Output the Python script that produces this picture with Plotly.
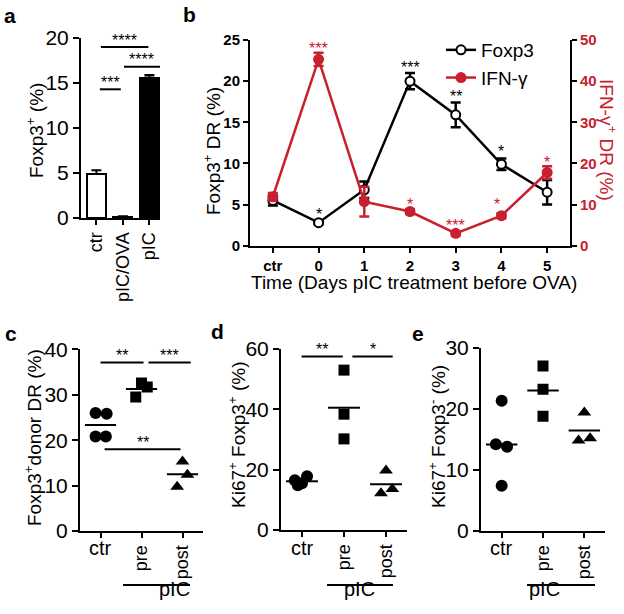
import plotly.graph_objects as go
import numpy as np

RED = "#c8202e"
FONT = "Liberation Sans, Arial, sans-serif"
W, H = 624, 614

# ---------------- data ----------------
# panel a
a_cats = ["ctr", "pIC/OVA", "pIC"]
a_vals = [4.9, 0.15, 15.6]
a_err = [0.4, 0.05, 0.3]
a_fill = ["white", "white", "black"]
a_sig = [(0.17, 1.96, 19.0, "****"), (1.04, 2.4, 16.8, "****"), (0.13, 0.92, 14.3, "***")]

# panel b
b_x = [-1, 0, 1, 2, 3, 4, 5]
b_ticktext = ["ctr", "0", "1", "2", "3", "4", "5"]
foxp3 = [5.5, 2.8, 6.8, 20.0, 15.9, 9.9, 6.5]
foxp3_err = [0.6, 0.2, 1.0, 1.0, 1.5, 0.7, 1.5]
ifng = [11.9, 45.3, 10.7, 8.3, 3.0, 7.3, 17.8]
ifng_err = [0.9, 1.6, 3.6, 0.6, 0.5, 0.6, 1.5]
b_star_fox = [(0, 4.3, "*"), (2, 22.2, "***"), (3, 18.6, "**"), (4, 11.9, "*")]
b_star_ifn = [(0, 49.0, "***"), (2, 10.9, "*"), (3, 6.0, "***"), (3.9, 11.1, "*"), (5, 21.3, "*")]

# panels c, d, e
grp_cats = ["ctr", "pre", "post"]
c_ctr = [26.0, 25.8, 20.8, 20.8]
c_pre = [29.5, 32.6, 31.7]
c_post = [15.3, 12.4, 9.75]
c_sig = [(0.0, 1.05, 37.1, "**"), (1.17, 2.2, 37.1, "***"), (0.1, 1.95, 18.0, "**")]

d_ctr = [16.5, 14.8, 15.5, 17.8]
d_pre = [53.0, 38.4, 30.2]
d_post = [19.7, 12.2, 13.6]
d_sig = [(-0.01, 0.97, 57.5, "**"), (1.2, 2.16, 57.5, "*")]

e_ctr = [21.3, 14.2, 13.8, 7.4]
e_pre = [27.0, 23.2, 18.8]
e_post = [19.4, 14.8, 15.2]

# horizontal spread of overlapping points
c_jit = [[-0.12, 0.15, -0.12, 0.13], [-0.14, 0.0, 0.14], [0.0, 0.12, -0.13]]
d_jit = [[-0.17, -0.1, 0.0, 0.12], [0.0, 0.0, 0.0], [0.0, -0.12, 0.15]]
e_jit = [[0.0, -0.14, 0.13, 0.0], [0.0, 0.0, 0.0], [0.0, -0.14, 0.14]]

# ---------------- figure ----------------
fig = go.Figure()

def px(x):
    return x / W

def py(y):
    return 1 - y / H

def axis(**kw):
    base = dict(showline=True, linecolor="black", linewidth=2, ticks="outside",
                ticklen=6, tickwidth=2, tickcolor="black", showgrid=False,
                zeroline=False, tickfont=dict(size=21, color="black", family=FONT),
                fixedrange=True, automargin=False)
    base.update(kw)
    return base

# panel a bars
fig.add_trace(go.Bar(x=[0, 1, 2], y=a_vals, width=0.72,
                     marker=dict(color=a_fill, line=dict(color="black", width=2)),
                     error_y=dict(type="data", array=a_err, arrayminus=[0, 0, 0],
                                  symmetric=False, color="black", thickness=2, width=5),
                     xaxis="x", yaxis="y", showlegend=False))

# panel b lines
fig.add_trace(go.Scatter(x=b_x, y=foxp3, mode="lines+markers", name="Foxp3",
                         line=dict(color="black", width=2.5),
                         marker=dict(symbol="circle", size=9, color="white",
                                     line=dict(color="black", width=2)),
                         error_y=dict(type="data", array=foxp3_err, color="black",
                                      thickness=2.5, width=5),
                         xaxis="x2", yaxis="y2"))
fig.add_trace(go.Scatter(x=b_x, y=ifng, mode="lines+markers", name="IFN-γ",
                         line=dict(color=RED, width=2.5),
                         marker=dict(symbol="circle", size=11, color=RED),
                         error_y=dict(type="data", array=ifng_err, color=RED,
                                      thickness=2.5, width=5),
                         xaxis="x2", yaxis="y3"))

# scatter panels
symbols = ["circle", "square", "triangle-up"]
sizes = [12, 11, 12]
panels = [("x4", "y4", [c_ctr, c_pre, c_post], c_jit),
          ("x5", "y5", [d_ctr, d_pre, d_post], d_jit),
          ("x6", "y6", [e_ctr, e_pre, e_post], e_jit)]
for xa, ya, groups, jit in panels:
    for i, vals in enumerate(groups):
        fig.add_trace(go.Scatter(x=[i + j for j in jit[i]], y=vals, mode="markers",
                                 marker=dict(symbol=symbols[i], size=sizes[i], color="black"),
                                 xaxis=xa, yaxis=ya, showlegend=False))
        m = float(np.mean(vals))
        fig.add_trace(go.Scatter(x=[i - 0.38, i + 0.38], y=[m, m], mode="lines",
                                 line=dict(color="black", width=2),
                                 xaxis=xa, yaxis=ya, showlegend=False))

shapes = []
annotations = []

def sig_lines(sigs, xref, yref):
    for x0, x1, yv, txt in sigs:
        shapes.append(dict(type="line", x0=x0, x1=x1, y0=yv, y1=yv, xref=xref, yref=yref,
                           line=dict(color="black", width=2)))
        annotations.append(dict(x=(x0 + x1) / 2, y=yv, xref=xref, yref=yref, text=txt,
                                showarrow=False, yanchor="middle", yshift=7,
                                font=dict(size=16, color="black", family=FONT)))

sig_lines(a_sig, "x", "y")
sig_lines(c_sig, "x4", "y4")
sig_lines(d_sig, "x5", "y5")

for xv, yv, txt in b_star_fox:
    annotations.append(dict(x=xv, y=yv, xref="x2", yref="y2", text=txt, showarrow=False,
                            yshift=-4, font=dict(size=16, color="black", family=FONT)))
for xv, yv, txt in b_star_ifn:
    annotations.append(dict(x=xv, y=yv, xref="x2", yref="y3", text=txt, showarrow=False,
                            yshift=-4, font=dict(size=16, color=RED, family=FONT)))

# horizontal "ctr" labels in panels c-e (pre/post are rotated axis tick labels)
for xr in ["x4", "x5", "x6"]:
    annotations.append(dict(x=0, y=py(548), xref=xr, yref="paper", text=grp_cats[0],
                            showarrow=False, xanchor="center", yanchor="middle",
                            font=dict(size=20, color="black", family=FONT)))

# pIC brackets
for x0, x1, xc in [(123, 190, 157), (327, 393, 360), (527, 595, 562)]:
    shapes.append(dict(type="line", x0=px(x0), x1=px(x1), y0=py(585), y1=py(585),
                       xref="paper", yref="paper", line=dict(color="black", width=2)))
    annotations.append(dict(x=px(xc), y=py(602), xref="paper", yref="paper", text="pIC",
                            showarrow=False, font=dict(size=20, color="black", family=FONT)))

# axis titles
def title(x, y, txt, angle=-90, color="black"):
    annotations.append(dict(x=px(x), y=py(y), xref="paper", yref="paper", text=txt,
                            showarrow=False, textangle=angle, xanchor="center", yanchor="middle",
                            font=dict(size=19, color=color, family=FONT)))

title(35, 131, "Foxp3<sup>+</sup> (%)")
title(212, 151, "Foxp3<sup>+</sup> DR (%)")
title(608, 140, "IFN-γ<sup>+</sup> DR (%)", angle=90, color=RED)
title(414, 282, "Time (Days pIC treatment before OVA)", angle=0)
title(33, 438, "Foxp3<sup>+</sup>donor DR (%)")
title(237, 435, "Ki67<sup>+</sup> Foxp3<sup>+</sup> (%)")
title(437, 437, "Ki67<sup>+</sup> Foxp3<sup>-</sup> (%)")

# panel letters
for x, y, t in [(10, 15, "a"), (189, 14, "b"), (11, 333, "c"), (217, 331, "d"), (418, 333, "e")]:
    annotations.append(dict(x=px(x), y=py(y), xref="paper", yref="paper", text="<b>%s</b>" % t,
                            showarrow=False, xanchor="center", yanchor="middle",
                            font=dict(size=21, color="black", family=FONT)))

bold_tick = dict(size=15, color="black", family=FONT)
rot_tick = dict(size=18, color="black", family=FONT)
rot_text = [""] + grp_cats[1:]

fig.update_layout(
    width=W, height=H, margin=dict(l=0, r=0, t=0, b=0, autoexpand=False),
    plot_bgcolor="white", paper_bgcolor="white",
    font=dict(family=FONT, color="black"),
    bargap=0,
    xaxis=axis(domain=[px(81), px(160)], anchor="y", range=[-0.58, 2.4],
               tickvals=[0, 1, 2], ticktext=a_cats, tickangle=-90,
               tickfont=dict(size=18, color="black", family=FONT), ticklen=5),
    yaxis=axis(domain=[py(218), py(38)], anchor="x", range=[0, 20],
               tickvals=[0, 5, 10, 15, 20]),
    xaxis2=axis(domain=[px(250), px(570)], anchor="y2", range=[-1.5, 5.5],
                tickvals=b_x, ticktext=["<b>%s</b>" % t for t in b_ticktext],
                tickfont=bold_tick, ticklen=5),
    yaxis2=axis(domain=[py(245.7), py(40)], anchor="x2", range=[0, 25],
                tickvals=[0, 5, 10, 15, 20, 25],
                ticktext=["<b>%d</b>" % v for v in [0, 5, 10, 15, 20, 25]],
                tickfont=bold_tick, ticklen=5),
    yaxis3=axis(domain=[py(245.7), py(40)], anchor="x2", overlaying="y2", side="right",
                range=[0, 50], tickvals=[0, 10, 20, 30, 40, 50],
                ticktext=["<b>%d</b>" % v for v in [0, 10, 20, 30, 40, 50]],
                tickfont=dict(size=15, color=RED, family=FONT), ticklen=5),
    xaxis4=axis(domain=[px(80), px(203)], anchor="y4", range=[-0.5, 2.5],
                tickvals=[0, 1, 2], ticktext=rot_text, tickangle=-90,
                tickfont=rot_tick, ticklen=5),
    yaxis4=axis(domain=[py(531), py(349.3)], anchor="x4", range=[0, 40],
                tickvals=[0, 10, 20, 30, 40]),
    xaxis5=axis(domain=[px(281), px(407)], anchor="y5", range=[-0.5, 2.5],
                tickvals=[0, 1, 2], ticktext=rot_text, tickangle=-90,
                tickfont=rot_tick, ticklen=5),
    yaxis5=axis(domain=[py(530), py(349)], anchor="x5", range=[0, 60],
                tickvals=[0, 20, 40, 60]),
    xaxis6=axis(domain=[px(481), px(605)], anchor="y6", range=[-0.5, 2.5],
                tickvals=[0, 1, 2], ticktext=rot_text, tickangle=-90,
                tickfont=rot_tick, ticklen=5),
    yaxis6=axis(domain=[py(531), py(347.7)], anchor="x6", range=[0, 30],
                tickvals=[0, 10, 20, 30]),
    legend=dict(x=px(441), y=py(31), xanchor="left", yanchor="top",
                font=dict(size=19, color="black", family=FONT),
                bgcolor="rgba(0,0,0,0)", itemwidth=30, tracegroupgap=0),
    shapes=shapes, annotations=annotations,
)

fig.write_html("out.html", config={"displayModeBar": False},
               post_script="document.body.style.margin='0';document.body.style.overflow='hidden';")
